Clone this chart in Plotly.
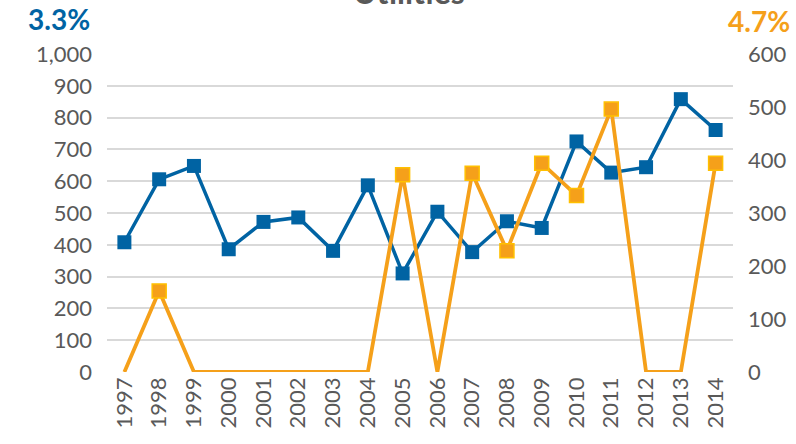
import plotly.graph_objects as go

years = [str(y) for y in range(1997, 2015)]
blue_vals = [408, 606, 648, 386, 472, 486, 381, 587, 310, 504, 377, 474, 453, 725, 627, 644, 858, 761]
orange_vals = [0, 153, 0, 0, 0, 0, 0, 0, 372, 0, 375, 229, 394, 333, 496, 0, 0, 394]
left_ticks = list(range(0, 1001, 100))
right_ticks = list(range(0, 601, 100))

BLUE = "#0063A3"
ORANGE = "#F5A01A"
FONT = "Lato, 'Open Sans', sans-serif"
TICK = dict(size=22, color="#595959", family=FONT)

fig = go.Figure()
fig.add_trace(go.Scatter(
    x=years, y=blue_vals, mode="lines+markers",
    line=dict(color=BLUE, width=3.5),
    marker=dict(symbol="square", size=14, color=BLUE),
    cliponaxis=False, showlegend=False))
fig.add_trace(go.Scatter(
    x=years, y=orange_vals, mode="lines+markers", yaxis="y2",
    line=dict(color=ORANGE, width=3.8),
    marker=dict(symbol="square", size=[14 if v > 0 else 0 for v in orange_vals],
                color=ORANGE, opacity=1, line=dict(color="#FFC000", width=1.5)),
    cliponaxis=False, showlegend=False))

fig.update_layout(
    width=796, height=444,
    margin=dict(l=107, r=63, t=54, b=72),
    paper_bgcolor="white", plot_bgcolor="white",
    font=dict(family=FONT, color="#595959", size=22),
    xaxis=dict(type="category", range=[-0.5, len(years) - 0.5], tickangle=-90,
               showgrid=False, ticks="", automargin=False,
               tickfont=TICK, showline=False),
    yaxis=dict(range=[0, 1000], tickvals=left_ticks, tickformat=",", automargin=False,
               showgrid=True, gridcolor="#D9D9D9", gridwidth=1.5, zeroline=False,
               ticks="", ticklabelstandoff=14, tickfont=TICK),
    yaxis2=dict(range=[0, 600], tickvals=right_ticks, overlaying="y", side="right",
                automargin=False,
                showgrid=False, zeroline=False, ticks="", ticklabelstandoff=14,
                tickfont=TICK),
)
fig.add_annotation(text="<b>Utilities</b>", xref="paper", yref="paper",
                   x=(409 - 107) / 626, y=1 + (54 - 13) / 318, xanchor="center", yanchor="bottom",
                   showarrow=False, font=dict(size=32, color="#595959", family=FONT))
fig.add_annotation(text="<b>3.3%</b>", xref="paper", yref="paper",
                   x=(26 - 107) / 626, y=1 + (54 - 38) / 318, xanchor="left", yanchor="bottom",
                   showarrow=False, font=dict(size=28, color=BLUE, family=FONT))
fig.add_annotation(text="<b>4.7%</b>", xref="paper", yref="paper",
                   x=(792 - 107) / 626, y=1 + (54 - 40) / 318, xanchor="right", yanchor="bottom",
                   showarrow=False, font=dict(size=28, color=ORANGE, family=FONT))

fig.write_html("out.html", config={"displayModeBar": False},
               post_script="document.body.style.margin='0';document.body.style.overflow='hidden';")
